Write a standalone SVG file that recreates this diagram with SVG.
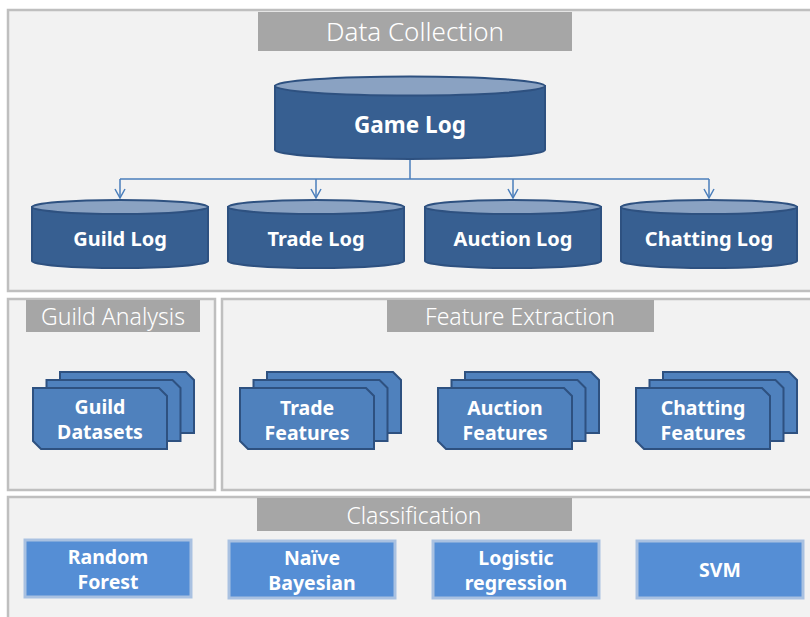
<svg xmlns="http://www.w3.org/2000/svg" width="810" height="617" viewBox="0 0 810 617">
<defs>
<style>
.panel{fill:#f2f2f2;stroke:#bfbfbf;stroke-width:2.5}
.title{fill:#a6a6a6}
.ttext{font-family:"Noto Sans","Open Sans",sans-serif;font-size:23px;fill:#ffffff;text-anchor:middle;font-weight:300}
.cyl{fill:#375f91;stroke:#2e5180;stroke-width:2}
.cyltop{fill:#8aa2c2;stroke:#2e5180;stroke-width:2}
.ntext{font-family:"Noto Sans","Open Sans",sans-serif;font-size:20px;font-weight:bold;fill:#ffffff;text-anchor:middle}
.stext{font-family:"Noto Sans","Open Sans",sans-serif;font-size:19.5px;font-weight:bold;fill:#ffffff;text-anchor:middle}
.doc{fill:#4f81bd;stroke:#2e5180;stroke-width:2}
.cls{fill:#558ed5;stroke:#a9c1e1;stroke-width:3}
.conn{fill:none;stroke:#4a7ebb;stroke-width:1.5}
</style>
<marker id="arr" markerWidth="12" markerHeight="12" refX="10" refY="6" orient="auto" markerUnits="userSpaceOnUse">
<path d="M1,1 L10,6 L1,11" fill="none" stroke="#4a7ebb" stroke-width="1.5"/>
</marker>
<path id="docshape" d="M0,0 H126 L134,8 V61 H8 L0,53 Z"/>
</defs>

<!-- Panels -->
<g id="panel-data-collection">
<rect class="panel" x="8" y="10" width="806" height="281"/>
<rect class="title" x="258" y="12" width="314" height="39"/>
<text class="ttext" x="415" y="41" style="font-size:26px">Data Collection</text>
</g>
<g id="panel-guild-analysis">
<rect class="panel" x="8" y="299" width="207" height="191"/>
<rect class="title" x="26" y="300" width="174" height="32"/>
<text class="ttext" x="113" y="325">Guild Analysis</text>
</g>
<g id="panel-feature-extraction">
<rect class="panel" x="222" y="299" width="592" height="191"/>
<rect class="title" x="387" y="300" width="267" height="32"/>
<text class="ttext" x="520" y="325">Feature Extraction</text>
</g>
<g id="panel-classification">
<rect class="panel" x="8" y="497" width="806" height="125"/>
<rect class="title" x="257" y="498" width="315" height="33"/>
<text class="ttext" x="414" y="524">Classification</text>
</g>

<!-- Connectors -->
<g id="connectors">
<path class="conn" d="M410,159 V179"/>
<path class="conn" d="M120,179 H709"/>
<path class="conn" d="M120,179 V198" marker-end="url(#arr)"/>
<path class="conn" d="M316,179 V198" marker-end="url(#arr)"/>
<path class="conn" d="M513,179 V198" marker-end="url(#arr)"/>
<path class="conn" d="M709,179 V198" marker-end="url(#arr)"/>
</g>

<!-- Cylinders -->
<g id="game-log">
<path class="cyl" d="M275,86 V150 A135,9 0 0 0 545,150 V86 Z"/>
<ellipse class="cyltop" cx="410" cy="86" rx="135" ry="9.5"/>
<text class="ntext" x="410" y="133" style="font-size:22.5px">Game Log</text>
</g>
<g id="guild-log">
<path class="cyl" d="M32,207 V261 A88,7 0 0 0 208,261 V207 Z"/>
<ellipse class="cyltop" cx="120" cy="207" rx="88" ry="7"/>
<text class="ntext" x="120" y="246">Guild Log</text>
</g>
<g id="trade-log">
<path class="cyl" d="M228,207 V261 A88,7 0 0 0 404,261 V207 Z"/>
<ellipse class="cyltop" cx="316" cy="207" rx="88" ry="7"/>
<text class="ntext" x="316" y="246">Trade Log</text>
</g>
<g id="auction-log">
<path class="cyl" d="M425,207 V261 A88,7 0 0 0 601,261 V207 Z"/>
<ellipse class="cyltop" cx="513" cy="207" rx="88" ry="7"/>
<text class="ntext" x="513" y="246">Auction Log</text>
</g>
<g id="chatting-log">
<path class="cyl" d="M621,207 V261 A88,7 0 0 0 797,261 V207 Z"/>
<ellipse class="cyltop" cx="709" cy="207" rx="88" ry="7"/>
<text class="ntext" x="709" y="246">Chatting Log</text>
</g>

<!-- Stacked documents -->
<g id="guild-datasets">
<use href="#docshape" class="doc" x="60" y="372"/>
<use href="#docshape" class="doc" x="46.5" y="380"/>
<use href="#docshape" class="doc" x="33" y="388"/>
<text class="stext" x="100" y="414">Guild</text>
<text class="stext" x="100" y="439">Datasets</text>
</g>
<g id="trade-features">
<use href="#docshape" class="doc" x="267" y="372"/>
<use href="#docshape" class="doc" x="253.5" y="380"/>
<use href="#docshape" class="doc" x="240" y="388"/>
<text class="stext" x="307" y="415">Trade</text>
<text class="stext" x="307" y="440">Features</text>
</g>
<g id="auction-features">
<use href="#docshape" class="doc" x="465" y="372"/>
<use href="#docshape" class="doc" x="451.5" y="380"/>
<use href="#docshape" class="doc" x="438" y="388"/>
<text class="stext" x="505" y="415">Auction</text>
<text class="stext" x="505" y="440">Features</text>
</g>
<g id="chatting-features">
<use href="#docshape" class="doc" x="663" y="372"/>
<use href="#docshape" class="doc" x="649.5" y="380"/>
<use href="#docshape" class="doc" x="636" y="388"/>
<text class="stext" x="703" y="415">Chatting</text>
<text class="stext" x="703" y="440">Features</text>
</g>

<!-- Classifiers -->
<g id="random-forest">
<rect class="cls" x="25" y="540" width="166" height="57"/>
<text class="stext" x="108" y="564">Random</text>
<text class="stext" x="108" y="589">Forest</text>
</g>
<g id="naive-bayesian">
<rect class="cls" x="229" y="541" width="166" height="57"/>
<text class="stext" x="312" y="565">Naïve</text>
<text class="stext" x="312" y="590">Bayesian</text>
</g>
<g id="logistic-regression">
<rect class="cls" x="433" y="541" width="166" height="57"/>
<text class="stext" x="516" y="565">Logistic</text>
<text class="stext" x="516" y="590">regression</text>
</g>
<g id="svm">
<rect class="cls" x="637" y="541" width="166" height="57"/>
<text class="stext" x="720" y="577">SVM</text>
</g>
</svg>
